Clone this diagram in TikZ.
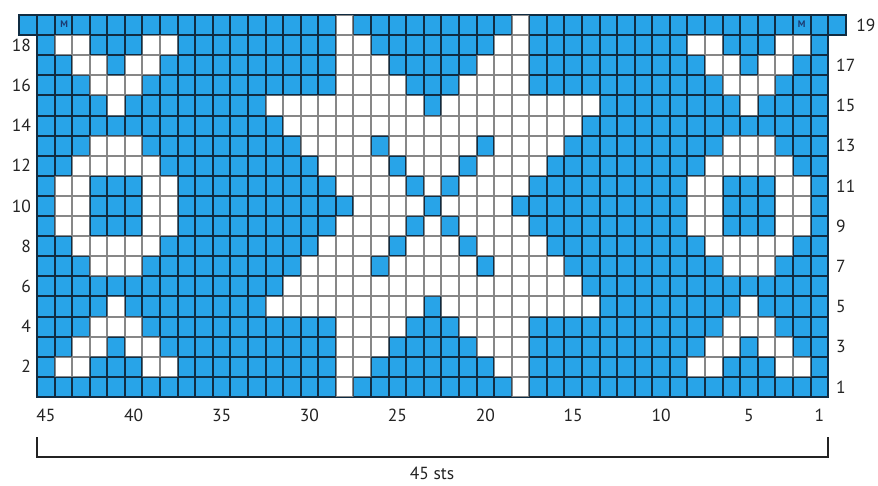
\documentclass[tikz,border=0pt]{standalone}
\usepackage{fontspec}
\setmainfont{PT Sans}
\definecolor{chartblue}{RGB}{40,164,232}
\definecolor{mnavy}{RGB}{28,58,112}
\definecolor{labelgray}{RGB}{35,35,35}
\definecolor{darkline}{RGB}{16,44,66}
\definecolor{lightline}{RGB}{135,135,135}
% path pieces: white cell range a..b in row r, plus its mirror image
\newcommand{\Wc}[3]{({#2},{19-#1}) rectangle ({#3+1},{20-#1}) ({44-#3},{19-#1}) rectangle ({45-#2},{20-#1}) }
\newcommand{\whitecells}{%
  \Wc{2}{1}{2} \Wc{2}{6}{7}
  \Wc{3}{2}{3} \Wc{3}{5}{6}
  \Wc{4}{3}{5}
  \Wc{5}{4}{4}
  \Wc{7}{3}{5}
  \Wc{8}{2}{6}
  \Wc{9}{1}{2} \Wc{9}{6}{7}
  \Wc{10}{1}{2} \Wc{10}{6}{7}
  \Wc{11}{1}{2} \Wc{11}{6}{7}
  \Wc{12}{2}{6}
  \Wc{13}{3}{5}
  \Wc{15}{4}{4}
  \Wc{16}{3}{5}
  \Wc{17}{2}{3} \Wc{17}{5}{6}
  \Wc{18}{1}{2} \Wc{18}{6}{7}
  \Wc{1}{17}{17} \Wc{19}{17}{17}
  \Wc{2}{17}{18} \Wc{18}{17}{18}
  \Wc{3}{17}{19} \Wc{17}{17}{19}
  \Wc{4}{17}{20} \Wc{16}{17}{20}
  \Wc{5}{13}{21} \Wc{15}{13}{21}
  \Wc{6}{14}{30} \Wc{14}{14}{30}
  \Wc{7}{15}{18} \Wc{7}{20}{24}
  \Wc{13}{15}{18} \Wc{13}{20}{24}
  \Wc{8}{16}{19} \Wc{8}{21}{23}
  \Wc{12}{16}{19} \Wc{12}{21}{23}
  \Wc{9}{17}{20} \Wc{9}{22}{22}
  \Wc{11}{17}{20} \Wc{11}{22}{22}
  \Wc{10}{18}{21}
}
% grid in pixel units, snapped to whole pixels
\newcommand{\gridpath}{%
  (19,15) -- (846,15) (19,35) -- (846,35)
  \foreach \k [evaluate=\k as \yy using {round(15+20.1*\k)}] in {2,...,19}{(37,\yy) -- (828,\yy)}
  \foreach \i [evaluate=\i as \xx using {round(37+17.58*\i)}] in {0,...,45}{(\xx,35) -- (\xx,397)}
  \foreach \i [evaluate=\i as \xx using {round(37+17.58*\i)}] in {-1,...,46}{(\xx,15) -- (\xx,35)}
}
\begin{document}
\begin{tikzpicture}[x=1pt,y=-1pt,
  lbl/.style={font=\fontsize{17.5}{17.5}\selectfont, text=labelgray, inner sep=0pt},
  darkgrid/.style={draw=darkline, line width=2pt, line cap=rect},
  lightgrid/.style={draw=lightline, line width=2pt, line cap=rect},
  bracketline/.style={draw=labelgray, line width=1.2pt},
  mark label/.style={font=\fontsize{9.5}{9.5}\selectfont\bfseries, text=mnavy, inner sep=0pt},
  chartunits/.style={shift={(37pt,-15pt)}, x=17.58pt, y=-20.1pt},
  pixelunits/.style={shift={(-37pt,15pt)}, x=1pt, y=-1pt}]
\useasboundingbox (0,0) rectangle (878,485);
\fill[white] (0,0) rectangle (878,485);
\begin{scope}[chartunits]
  \fill[chartblue] (0,1) rectangle (45,19);
  \fill[chartblue] (-1,0) rectangle (46,1);
  \fill[white] \whitecells;
\end{scope}
% grid: dark over blue, grey over white
\draw[darkgrid] \gridpath;
\begin{scope}[chartunits]
  \clip \whitecells;
  \begin{scope}[pixelunits]
    \draw[lightgrid] \gridpath;
  \end{scope}
\end{scope}
\begin{scope}[chartunits]
  % M markers
  \node[mark label] (mleft) at (1.55,0.45) {M};
  \node[mark label] (mright) at (43.5,0.45) {M};
  % row numbers
  \foreach \r in {18,16,...,2}
    \node[lbl, anchor=east] (rowl\r) at (-0.33,{19-\r+0.5}) {\r};
  \foreach \r in {17,15,...,1}
    \node[lbl, anchor=west] (rowr\r) at (45.45,{19-\r+0.5}) {\r};
  \node[lbl, anchor=west] (rowr19) at (46.6,0.5) {19};
  % stitch numbers
  \foreach \c in {45,40,...,5}
    \node[lbl] (col\c) at ({45.5-\c},19.9) {\c};
  \node[lbl] (col1) at (44.5,19.9) {1};
\end{scope}
% bracket
\coordinate (bra) at (37,437);
\coordinate (brb) at (37,457);
\coordinate (brc) at (828,457);
\coordinate (brd) at (828,437);
\draw[bracketline] (bra) -- (brb) -- (brc) -- (brd);
\node[lbl] (sts) at (432,473) {45 sts};
\end{tikzpicture}
\end{document}
